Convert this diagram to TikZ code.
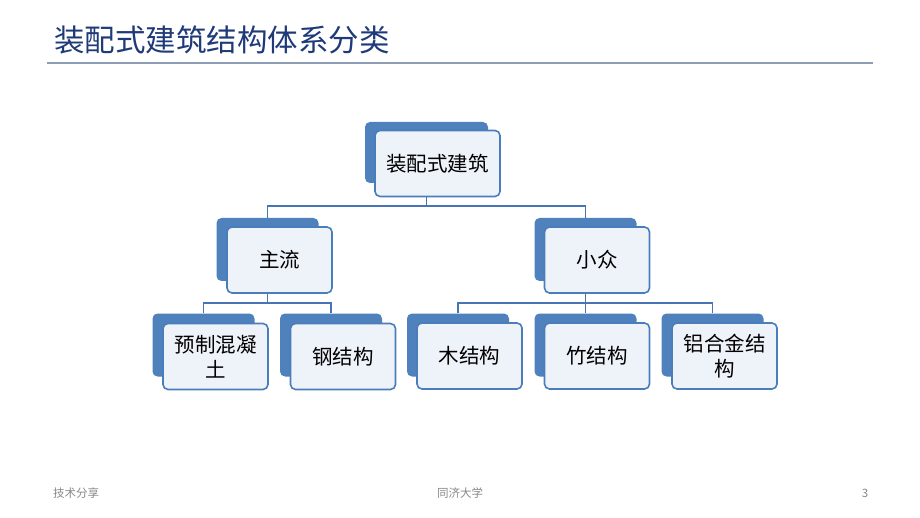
\documentclass[tikz,border=0pt]{standalone}
\usepackage{fontspec}
\setmainfont{Noto Sans CJK SC}
\definecolor{bk}{HTML}{4F81BD}
\definecolor{bd}{HTML}{4A7EBB}
\definecolor{fr}{HTML}{EEF2F9}
\definecolor{ln}{HTML}{4674B4}
\definecolor{ttl}{HTML}{1F3A78}
\definecolor{rule}{HTML}{8C9DB5}
\definecolor{ft}{HTML}{898989}
\begin{document}
\begin{tikzpicture}[x=1pt,y=-1pt,
  backbox/.style={rectangle, rounded corners=5pt, fill=bk, inner sep=0pt, minimum width=102pt, minimum height=63pt},
  frontbox/.style={rectangle, rounded corners=5pt, draw=bd, line width=1.6pt, fill=fr, inner sep=0pt,
    minimum width=105pt, minimum height=66pt, text width=100pt, align=center,
    font=\fontsize{20.5}{24.5}\selectfont},
  conn/.style={draw=ln, line width=1.9pt},
  foot/.style={font=\fontsize{11.5}{13}\selectfont, text=ft, inner sep=0pt}]
\useasboundingbox (0,0) rectangle (920,518);
\fill[white] (0,0) rectangle (920,518);
% title
\node[anchor=west, inner sep=0pt, text=ttl, font=\fontsize{30.5}{34}\selectfont] (title) at (54,40) {装配式建筑结构体系分类};
\coordinate (r1) at (47,63);
\coordinate (r2) at (873,63);
\draw[rule, line width=2pt] (r1) -- (r2);
% root
\node[backbox, minimum width=123pt, minimum height=61pt] (rootb) at (426.5,152.5) {};
\node[frontbox, minimum width=125pt, text width=120pt] (root) at (437.5,163.5) {装配式建筑};
% level 2
\node[backbox] (mainb) at (267.5,249.5) {};
\node[frontbox] (main) at (279.5,260) {主流};
\node[backbox] (minb) at (585.5,249.5) {};
\node[frontbox] (min) at (597,260) {小众};
% level 3
\node[backbox] (preb) at (203.5,345) {};
\node[frontbox] (pre) at (215.5,356.5) {预制混凝\\土};
\node[backbox] (stb) at (331,345) {};
\node[frontbox] (st) at (343,356.5) {钢结构};
\node[backbox] (wob) at (458,345) {};
\node[frontbox] (wo) at (469.5,356) {木结构};
\node[backbox] (bab) at (585.5,345) {};
\node[frontbox] (ba) at (597,356) {竹结构};
\node[backbox] (alb) at (712.5,345) {};
\node[frontbox] (al) at (724.5,356) {铝合金结\\构};
% connectors
\coordinate (j1) at (426.5,206);
\coordinate (j2) at (267.5,303);
\coordinate (j3) at (585.5,303);
\draw[conn] (rootb.center |- root.south) -- (j1);
\draw[conn] (mainb.north) -- (mainb.north |- j1) -- (minb.north |- j1) -- (minb.north);
\draw[conn] (mainb.center |- main.south) -- (j2);
\draw[conn] (preb.north) -- (preb.north |- j2) -- (stb.north |- j2) -- (stb.north);
\draw[conn] (minb.center |- min.south) -- (j3);
\draw[conn] (wob.north) -- (wob.north |- j3) -- (alb.north |- j3) -- (alb.north);
\draw[conn] (bab.north |- j3) -- (bab.north);
% footer
\node[foot, anchor=west] (f1) at (53,493) {技术分享};
\node[foot] (f2) at (460,493) {同济大学};
\node[foot] (f3) at (865,493) {3};
\end{tikzpicture}
\end{document}
